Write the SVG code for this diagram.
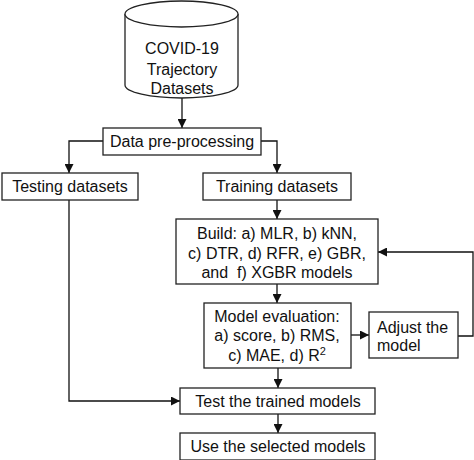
<svg xmlns="http://www.w3.org/2000/svg" width="474" height="460" viewBox="0 0 474 460">
<style>
.box{fill:#fff;stroke:#222;stroke-width:1.3}
.t{font-family:"Liberation Sans",Arial,sans-serif;font-size:16px;fill:#111;text-anchor:middle}
.l{text-anchor:start}
.c{fill:none;stroke:#111;stroke-width:1.3}
</style>
<defs>
<marker id="ah" viewBox="0 0 10 10" refX="10" refY="5" markerWidth="9" markerHeight="9" markerUnits="userSpaceOnUse" orient="auto">
<path d="M0,0 L10,5 L0,10 Z" fill="#111"/>
</marker>
</defs>
<rect width="474" height="460" fill="#fff"/>
<g id="connectors">
<path class="c" d="M182,98 V128" marker-end="url(#ah)"/>
<path class="c" d="M103,141 H69 V173" marker-end="url(#ah)"/>
<path class="c" d="M261,141 H277 V173" marker-end="url(#ah)"/>
<path class="c" d="M277,200 V219" marker-end="url(#ah)"/>
<path class="c" d="M277,284 V303" marker-end="url(#ah)"/>
<path class="c" d="M351,335 H369" marker-end="url(#ah)"/>
<path class="c" d="M458,336 H473 V252 H378" marker-end="url(#ah)"/>
<path class="c" d="M278,368 V388" marker-end="url(#ah)"/>
<path class="c" d="M69,200 V401 H180" marker-end="url(#ah)"/>
<path class="c" d="M278,414 V433" marker-end="url(#ah)"/>
</g>
<g id="datasets">
<path class="box" d="M125,14 V85 A56.5,13 0 0 0 238,85 V14 A56.5,13 0 0 0 125,14 Z"/>
<path class="box" d="M125,14 A56.5,13 0 0 0 238,14"/>
<text class="t" x="182" y="54">COVID-19</text>
<text class="t" x="182" y="75">Trajectory</text>
<text class="t" x="182" y="94">Datasets</text>
</g>
<g id="preprocessing">
<rect class="box" x="103" y="128" width="158" height="27"/>
<text class="t" x="182" y="147">Data pre-processing</text>
</g>
<g id="testing">
<rect class="box" x="2" y="173" width="136" height="27"/>
<text class="t" x="70" y="192">Testing datasets</text>
</g>
<g id="training">
<rect class="box" x="203" y="173" width="148" height="27"/>
<text class="t" x="277" y="192">Training datasets</text>
</g>
<g id="build">
<rect class="box" x="176" y="219" width="202" height="65"/>
<text class="t" x="277" y="239">Build: a) MLR, b) kNN,</text>
<text class="t" x="277" y="259">c) DTR, d) RFR, e) GBR,</text>
<text class="t" x="277" y="278" xml:space="preserve">and  f) XGBR models</text>
</g>
<g id="evaluation">
<rect class="box" x="204" y="303" width="147" height="65"/>
<text class="t" x="277" y="322">Model evaluation:</text>
<text class="t" x="277" y="341">a) score, b) RMS,</text>
<text class="t" x="277" y="361">c) MAE, d) R<tspan font-size="11" dy="-6">2</tspan></text>
</g>
<g id="adjust">
<rect class="box" x="369" y="312" width="89" height="46"/>
<text class="t l" x="377" y="333">Adjust the</text>
<text class="t l" x="377" y="351">model</text>
</g>
<g id="test">
<rect class="box" x="180" y="388" width="195" height="26"/>
<text class="t" x="278" y="407">Test the trained models</text>
</g>
<g id="use">
<rect class="box" x="180" y="433" width="195" height="27"/>
<text class="t" x="278" y="452">Use the selected models</text>
</g>
</svg>
